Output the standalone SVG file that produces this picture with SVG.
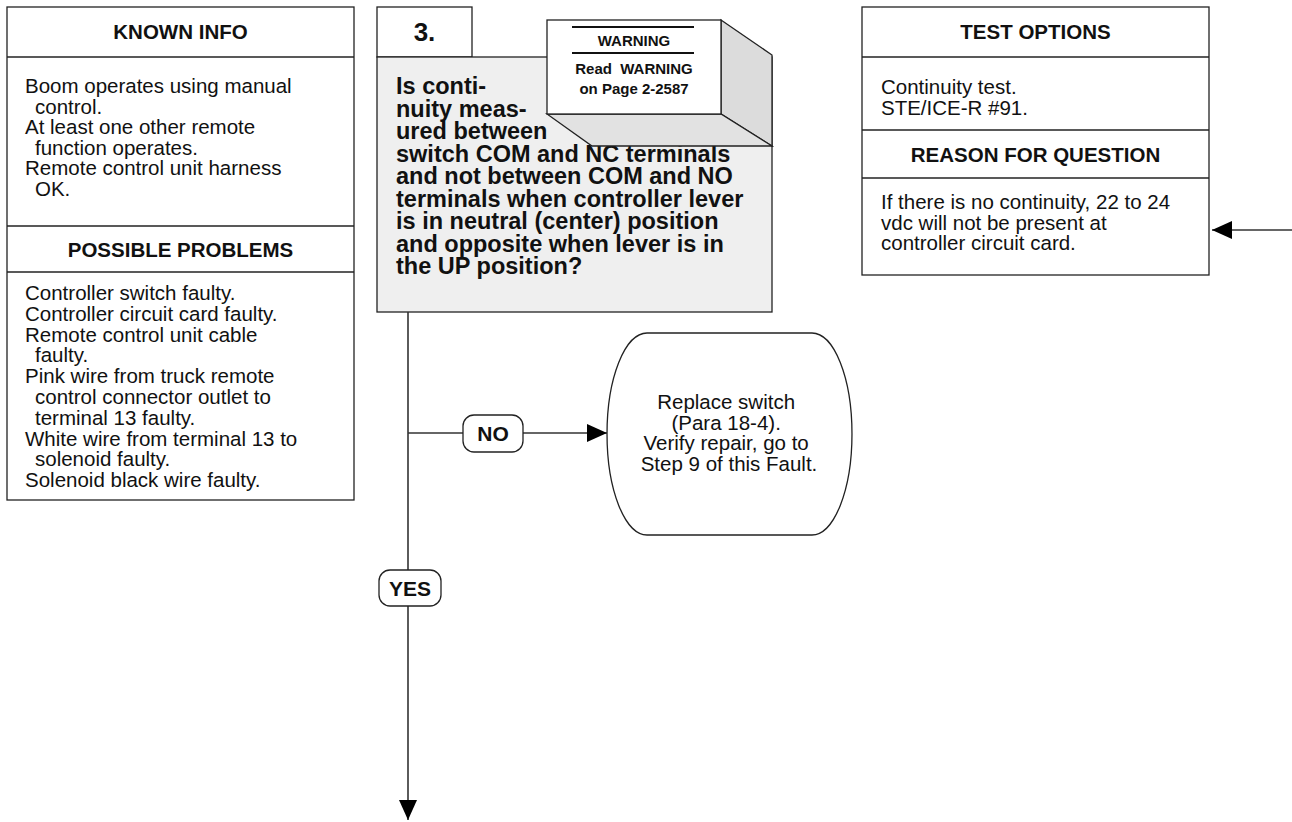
<svg xmlns="http://www.w3.org/2000/svg" width="1292" height="822" viewBox="0 0 1292 822">
  <style>
    .box { fill: #ffffff; stroke: #222222; stroke-width: 1.3; }
    .rule { stroke: #222222; stroke-width: 1.3; fill: none; }
    .hdr { font-family: "Liberation Sans", Arial, Helvetica, sans-serif; font-weight: bold; font-size: 20.5px; fill: #111111; text-anchor: middle; }
    .body { font-family: "Liberation Sans", Arial, Helvetica, sans-serif; font-size: 20.5px; fill: #111111; }
    .q { font-family: "Liberation Sans", Arial, Helvetica, sans-serif; font-weight: bold; font-size: 23.5px; fill: #111111; }
    .warn { font-family: "Liberation Sans", Arial, Helvetica, sans-serif; font-weight: bold; font-size: 15px; fill: #111111; text-anchor: middle; }
    .wire { stroke: #333333; stroke-width: 1.6; fill: none; }
    .tag { fill: #ffffff; stroke: #222222; stroke-width: 1.3; }
    .tagtxt { font-family: "Liberation Sans", Arial, Helvetica, sans-serif; font-weight: bold; font-size: 21px; fill: #111111; text-anchor: middle; }
  </style>
  <defs>
    <marker id="arrow" markerUnits="userSpaceOnUse" markerWidth="20" markerHeight="18" refX="20" refY="9" orient="auto">
      <path d="M0,0 L20,9 L0,18 Z" fill="#000000"/>
    </marker>
  </defs>

  <rect width="1292" height="822" fill="#ffffff"/>

  <!-- Known info / possible problems panel -->
  <g id="known-info">
    <rect class="box" x="7" y="7" width="347" height="493"/>
    <line class="rule" x1="7" y1="57" x2="354" y2="57"/>
    <line class="rule" x1="7" y1="226" x2="354" y2="226"/>
    <line class="rule" x1="7" y1="272" x2="354" y2="272"/>
    <text class="hdr" x="180.5" y="39">KNOWN INFO</text>
    <text class="body">
      <tspan x="25" y="93">Boom operates using manual</tspan>
      <tspan x="35" y="113.6">control.</tspan>
      <tspan x="25" y="134.2">At least one other remote</tspan>
      <tspan x="35" y="154.8">function operates.</tspan>
      <tspan x="25" y="175.4">Remote control unit harness</tspan>
      <tspan x="35" y="196">OK.</tspan>
    </text>
    <text class="hdr" x="180.5" y="257">POSSIBLE PROBLEMS</text>
    <text class="body">
      <tspan x="25" y="300">Controller switch faulty.</tspan>
      <tspan x="25" y="320.8">Controller circuit card faulty.</tspan>
      <tspan x="25" y="341.6">Remote control unit cable</tspan>
      <tspan x="35" y="362.4">faulty.</tspan>
      <tspan x="25" y="383.2">Pink wire from truck remote</tspan>
      <tspan x="35" y="404">control connector outlet to</tspan>
      <tspan x="35" y="424.8">terminal 13 faulty.</tspan>
      <tspan x="25" y="445.6">White wire from terminal 13 to</tspan>
      <tspan x="35" y="466.4">solenoid faulty.</tspan>
      <tspan x="25" y="487.2">Solenoid black wire faulty.</tspan>
    </text>
  </g>

  <!-- Step 3 question block -->
  <g id="step-3">
    <rect class="box" x="377" y="7" width="95" height="50"/>
    <text class="hdr" x="424.5" y="41" style="font-size:26px">3.</text>
    <rect class="box" x="377" y="57" width="395" height="255" style="fill:#efefef"/>
    <text class="q">
      <tspan x="396" y="94">Is conti-</tspan>
      <tspan x="396" y="116.5">nuity meas-</tspan>
      <tspan x="396" y="139">ured between</tspan>
      <tspan x="396" y="161.5">switch COM and NC terminals</tspan>
      <tspan x="396" y="184">and not between COM and NO</tspan>
      <tspan x="396" y="206.5">terminals when controller lever</tspan>
      <tspan x="396" y="229">is in neutral (center) position</tspan>
      <tspan x="396" y="251.5">and opposite when lever is in</tspan>
      <tspan x="396" y="274">the UP position?</tspan>
    </text>
  </g>

  <!-- Warning block drawn as a raised box -->
  <g id="warning">
    <polygon points="721,20 772,55 772,146 721,114" fill="#dcdcdc" stroke="#222222" stroke-width="1.3"/>
    <polygon points="547,114 721,114 772,146 592,146" fill="#e2e2e2" stroke="#222222" stroke-width="1.3"/>
    <rect class="box" x="547" y="20" width="174" height="94"/>
    <line x1="572" y1="27" x2="694" y2="27" stroke="#111111" stroke-width="2"/>
    <line x1="572" y1="53" x2="694" y2="53" stroke="#111111" stroke-width="2"/>
    <text class="warn" x="634" y="46">WARNING</text>
    <text class="warn" x="634" y="74" xml:space="preserve">Read  WARNING</text>
    <text class="warn" x="634" y="94">on Page 2-2587</text>
  </g>

  <!-- Test options / reason for question panel -->
  <g id="test-options">
    <rect class="box" x="862" y="7" width="347" height="268"/>
    <line class="rule" x1="862" y1="57" x2="1209" y2="57"/>
    <line class="rule" x1="862" y1="130" x2="1209" y2="130"/>
    <line class="rule" x1="862" y1="178" x2="1209" y2="178"/>
    <text class="hdr" x="1035.5" y="39">TEST OPTIONS</text>
    <text class="body">
      <tspan x="881" y="94">Continuity test.</tspan>
      <tspan x="881" y="114.6">STE/ICE-R #91.</tspan>
    </text>
    <text class="hdr" x="1035.5" y="162">REASON FOR QUESTION</text>
    <text class="body">
      <tspan x="881" y="209">If there is no continuity, 22 to 24</tspan>
      <tspan x="881" y="229.6">vdc will not be present at</tspan>
      <tspan x="881" y="250.2">controller circuit card.</tspan>
    </text>
  </g>

  <!-- Terminal action: replace switch -->
  <g id="replace-switch">
    <path class="box" d="M647,333 L812,333 A40,101 0 0 1 812,535 L647,535 A40,101 0 0 1 647,333 Z"/>
    <text class="body" text-anchor="middle">
      <tspan x="729" y="409">Replace switch</tspan>
      <tspan x="729" y="429.6">(Para 18-4).</tspan>
      <tspan x="729" y="450.2">Verify repair, go to</tspan>
      <tspan x="729" y="470.8">Step 9 of this Fault.</tspan>
    </text>
  </g>

  <!-- Connectors -->
  <g id="connectors">
    <line class="wire" x1="408" y1="312" x2="408" y2="820" marker-end="url(#arrow)"/>
    <line class="wire" x1="408" y1="433" x2="607" y2="433" marker-end="url(#arrow)"/>
    <line class="wire" x1="1292" y1="230" x2="1212" y2="230" marker-end="url(#arrow)"/>
  </g>

  <!-- Branch labels -->
  <g id="label-no">
    <rect class="tag" x="463" y="415" width="60" height="37" rx="11"/>
    <text class="tagtxt" x="493" y="441">NO</text>
  </g>
  <g id="label-yes">
    <rect class="tag" x="379" y="570" width="62" height="36" rx="11"/>
    <text class="tagtxt" x="410" y="596">YES</text>
  </g>
</svg>
